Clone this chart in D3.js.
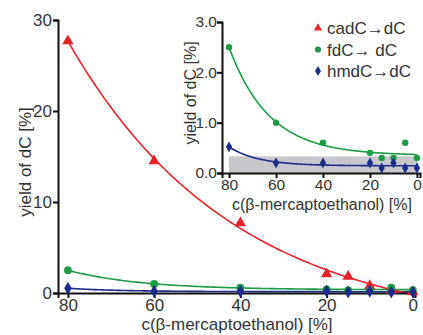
<!DOCTYPE html>
<html><head><meta charset="utf-8">
<script src="https://cdn.jsdelivr.net/npm/d3@7"></script>
<style>
body{margin:0;background:#fff}
text{font-family:"Liberation Sans",Arial,Helvetica,sans-serif;fill:#333}
</style>
</head><body>
<svg id="c" width="423" height="335"></svg>
<script>
// ---- data ----
const conc = [80, 60, 40, 20, 15, 10, 5, 0];
const cadC = [27.7, 14.5, 7.7, 2.1, 1.8, 0.8, 0.3, 0.1];
const fdC  = [2.5, 1.0, 0.6, 0.4, 0.3, 0.3, 0.6, 0.3];
const hmdC = [0.52, 0.2, 0.2, 0.2, 0.1, 0.2, 0.1, 0.1];
const seriesNames = ["cadC", "fdC", "hmdC"];
const legendFrom = ["cadC", "fdC", "hmdC"];
const legendTo = ["dC", " dC", "dC"];
const xTicks = [80, 60, 40, 20, 0];
const mainYTicks = [0, 10, 20, 30];
const insetYTicks = [0, 1, 2, 3];
const insetYLabels = ["0.0", "1.0", "2.0", "3.0"];
const backgroundLevel = 0.33;   // grey band height in inset (yield %)
const xTitle = "c(\u03b2-mercaptoethanol) [%]";
const yTitle = "yield of dC [%]";

const colors = {cadC: "#e8232b", fdC: "#1f9a47", hmdC: "#1b2b8a"};
const shapes = {cadC: d3.symbolTriangle, fdC: d3.symbolCircle, hmdC: d3.symbolDiamond};
const values = {cadC, fdC, hmdC};

// one-phase exponential fit y = a*exp(k*x) + c (least squares, grid over k)
function fitExp(xs, ys) {
  let best = null;
  for (let k = 0.002; k <= 0.3; k += 0.0005) {
    const f = xs.map(x => Math.exp(k * x));
    const n = xs.length;
    const sf = d3.sum(f), sy = d3.sum(ys);
    const sff = d3.sum(f, v => v * v), sfy = d3.sum(f.map((v, i) => v * ys[i]));
    const den = n * sff - sf * sf;
    const a = (n * sfy - sf * sy) / den;
    const c = (sy - a * sf) / n;
    const sse = d3.sum(xs.map((x, i) => (a * f[i] + c - ys[i]) ** 2));
    if (!best || sse < best.sse) best = {a, c, k, sse};
  }
  return x => best.a * Math.exp(best.k * x) + best.c;
}
const fits = {};
seriesNames.forEach(s => fits[s] = fitExp(conc, values[s]));
const curveX = d3.range(80, -0.001, -0.5);

const svg = d3.select("#c");
function styleAxis(a, fs) {
  a.select(".domain").attr("stroke", "#111").attr("stroke-width", 2);
  a.selectAll(".tick line").attr("stroke", "#111").attr("stroke-width", 2);
  a.selectAll("text").style("font-size", fs + "px").attr("fill", "#333")
    .style("font-family", '"Liberation Sans",Arial,sans-serif');
}

// ================= MAIN CHART =================
const mx = d3.scaleLinear().domain([82.3, -0.5]).range([58, 415]);
const my = d3.scaleLinear().domain([0, 30]).range([293, 20]);

svg.append("clipPath").attr("id", "mclip")
  .append("rect").attr("x", 58).attr("y", 0).attr("width", 365).attr("height", my(0) + 1);

const mg = svg.append("g");
const mcurves = mg.append("g").attr("clip-path", "url(#mclip)");
["hmdC", "fdC", "cadC"].forEach(s => {
  mcurves.append("path")
    .attr("d", d3.line().x(d => mx(d)).y(d => my(fits[s](d)))(curveX))
    .attr("fill", "none").attr("stroke", colors[s]).attr("stroke-width", 1.6);
});

const mxAxis = mg.append("g").attr("transform", `translate(0,${my(0)})`)
  .call(d3.axisBottom(mx).tickValues(xTicks).tickSize(5).tickPadding(1));
const myAxis = mg.append("g").attr("transform", `translate(${mx.range()[0]},0)`)
  .call(d3.axisLeft(my).tickValues(mainYTicks).tickSize(5).tickPadding(1));
styleAxis(mxAxis, 17); styleAxis(myAxis, 17);

["cadC", "fdC", "hmdC"].forEach(s => {
  mg.append("g").selectAll("path").data(conc.map((c, i) => [c, values[s][i]]))
    .join("path")
    .attr("d", d3.symbol().type(shapes[s]).size(s === "cadC" ? 55 : 48))
    .attr("transform", d => `translate(${mx(d[0])},${my(d[1])})`)
    .attr("fill", colors[s]);
});

mg.append("text").attr("x", 237).attr("y", 330).attr("text-anchor", "middle")
  .style("font-size", "17px").text(xTitle);
mg.append("text").attr("transform", "translate(31,162) rotate(-90)")
  .attr("text-anchor", "middle").style("font-size", "17px").text(yTitle);

// ================= INSET =================
const ix = d3.scaleLinear().domain([83, -1.3]).range([222, 420]);
const iy = d3.scaleLinear().domain([0, 3]).range([173, 22]);
const ig = svg.append("g");

ig.append("rect")
  .attr("x", ix(80)).attr("y", iy(backgroundLevel))
  .attr("width", ix(-0.4) - ix(80)).attr("height", iy(0) - iy(backgroundLevel))
  .attr("fill", "#c8c8cc");

["hmdC", "fdC"].forEach(s => {
  ig.append("path")
    .attr("d", d3.line().x(d => ix(d)).y(d => iy(fits[s](d)))(curveX))
    .attr("fill", "none").attr("stroke", colors[s]).attr("stroke-width", 1.6);
});

const ixAxis = ig.append("g").attr("transform", `translate(0,${iy(0)})`)
  .call(d3.axisBottom(ix).tickValues(xTicks).tickSize(5).tickPadding(1));
const iyAxis = ig.append("g").attr("transform", `translate(${ix.range()[0]},0)`)
  .call(d3.axisLeft(iy).tickValues(insetYTicks).tickFormat((d, i) => insetYLabels[i]).tickSize(5).tickPadding(0));
styleAxis(ixAxis, 15.5); styleAxis(iyAxis, 15.5);

["fdC", "hmdC"].forEach(s => {
  ig.append("g").selectAll("path").data(conc.map((c, i) => [c, values[s][i]]))
    .join("path")
    .attr("d", d3.symbol().type(shapes[s]).size(s === "fdC" ? 32 : 34))
    .attr("transform", d => `translate(${ix(d[0])},${iy(d[1])})`)
    .attr("fill", colors[s]);
});

ig.append("text").attr("x", 322).attr("y", 210).attr("text-anchor", "middle")
  .style("font-size", "16px").text(xTitle);
ig.append("text").attr("transform", "translate(196,93) rotate(-90)")
  .attr("text-anchor", "middle").style("font-size", "16px").text(yTitle);

// legend
const lg = svg.append("g");
seriesNames.forEach((s, i) => {
  const y = 28 + i * 21.5;
  lg.append("path").attr("d", d3.symbol().type(shapes[s]).size(30))
    .attr("transform", `translate(318,${y})`).attr("fill", colors[s]);
  const t = lg.append("text").attr("x", 327).attr("y", y + 6).style("font-size", "17px");
  t.append("tspan").text(legendFrom[i]);
  t.append("tspan").style("font-weight", "bold").text("\u2192");
  t.append("tspan").text(legendTo[i]);
});
</script>
</body></html>
